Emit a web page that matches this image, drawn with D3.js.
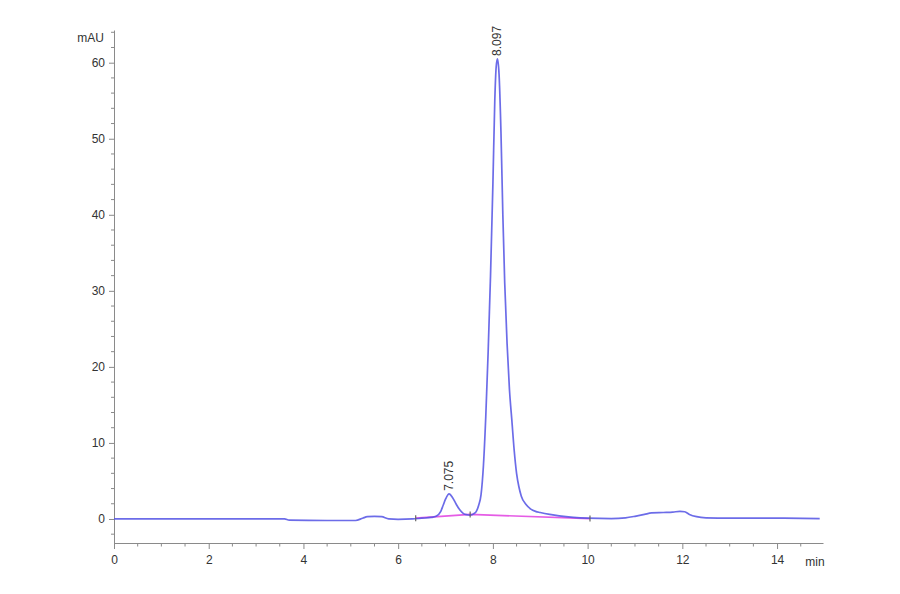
<!DOCTYPE html>
<html><head><meta charset="utf-8">
<script src="https://cdn.jsdelivr.net/npm/d3@7"></script>
<style>
html,body{margin:0;padding:0;background:#fff;}
svg{display:block;font-family:"Liberation Sans",Arial,sans-serif;}
</style></head>
<body><svg id="c" width="900" height="594"></svg>
<script>
// Chromatogram signal (min, mAU)
const traceTime = [0,1,2,3,3.6,3.7,4.5,5.1,5.25,5.35,5.5,5.65,5.8,6.0,6.3,6.5,6.7,6.8,6.9,6.95,7.0,7.075,7.15,7.22,7.3,7.38,7.45,7.52,7.6,7.65,7.7,7.75,7.8,7.85,7.9,7.95,8.0,8.04,8.07,8.097,8.13,8.17,8.21,8.25,8.3,8.35,8.4,8.45,8.5,8.55,8.6,8.7,8.8,8.9,9.0,9.2,9.4,9.7,10.0,10.5,10.8,11.0,11.2,11.35,11.6,11.8,11.95,12.05,12.15,12.3,12.5,13,14,14.9];
const traceSignal = [0,0,0,0,0,-0.15,-0.2,-0.2,0.1,0.3,0.35,0.3,0.0,-0.05,0.0,0.1,0.2,0.35,1.0,1.8,2.6,3.3,2.8,2.0,1.2,0.7,0.55,0.5,0.7,1.0,1.8,3.2,7.0,13.5,22,32,44,55,59.5,60.5,58.5,51,40,31,23,17,13,9,6,4.2,3.0,1.9,1.3,1.0,0.85,0.6,0.4,0.2,0.1,0.05,0.15,0.35,0.6,0.8,0.85,0.9,1.0,0.95,0.6,0.3,0.15,0.1,0.1,0.05];
// Integration baselines
const baseTime = [6.37,7.52,10.05];
const baseSignal = [0.1,0.6,0.05];
// Peak labels
const peakTimes = [7.075,8.097];
const peakHeights = [3.3,60.5];
const peakLabels = ["7.075","8.097"];
// Axis ticks
const xTicks = [0,2,4,6,8,10,12,14];
const yTicks = [0,10,20,30,40,50,60];
const xUnit = "min";
const yUnit = "mAU";

const svg = d3.select("#c");
const x = d3.scaleLinear().domain([0,14.97]).range([114,823]);
const y = d3.scaleLinear().domain([-3.16,64.3]).range([543,30]);
const axisCol = "#8a8a8a", textCol = "#333";

const xMinor = d3.range(0,14.97,0.5).filter(v=>!xTicks.includes(v));
const yMinor = d3.range(-2,64.5,2).filter(v=>!yTicks.includes(v));

const g = svg.append("g");
const xa = g.append("g").attr("transform",`translate(0,${y.range()[0]})`)
  .call(d3.axisBottom(x).tickValues(xTicks).tickFormat(d3.format("d")).tickSizeInner(6).tickSizeOuter(0).tickPadding(6));
xa.append("g").selectAll("line").data(xMinor).join("line")
  .attr("x1",d=>x(d)).attr("x2",d=>x(d)).attr("y1",0).attr("y2",3.5);
const ya = g.append("g").attr("transform",`translate(${x(0)},0)`)
  .call(d3.axisLeft(y).tickValues(yTicks).tickFormat(d3.format("d")).tickSizeInner(5).tickSizeOuter(0).tickPadding(4));
ya.append("g").selectAll("line").data(yMinor).join("line")
  .attr("x1",-3).attr("x2",0).attr("y1",d=>y(d)).attr("y2",d=>y(d));
[xa,ya].forEach(a=>{
  a.selectAll("path.domain").attr("stroke",axisCol);
  a.selectAll("line").attr("stroke",axisCol);
  a.selectAll("text").attr("fill",textCol).attr("font-size",12);
});
g.append("text").attr("x",x.range()[1]-8).attr("y",y.range()[0]+23).attr("text-anchor","middle")
  .attr("fill",textCol).attr("font-size",12).text(xUnit);
g.append("text").attr("x",x(0)-10).attr("y",42).attr("text-anchor","end")
  .attr("fill",textCol).attr("font-size",12).text(yUnit);

const base = baseTime.map((t,i)=>[t,baseSignal[i]]);
const line = d3.line().x(d=>x(d[0])).y(d=>y(d[1]));
g.append("path").datum(base).attr("d",line).attr("fill","none")
  .attr("stroke","#e040e0").attr("stroke-width",1.7).attr("opacity",0.85);

const trace = traceTime.map((t,i)=>[t,traceSignal[i]]);
g.append("path").datum(trace).attr("d",d3.line().curve(d3.curveMonotoneX).x(d=>x(d[0])).y(d=>y(d[1])))
  .attr("fill","none").attr("stroke","#5252e4").attr("stroke-width",1.7).attr("opacity",0.85);

g.selectAll("line.bm").data(base).join("line").attr("class","bm")
  .attr("x1",d=>x(d[0])).attr("x2",d=>x(d[0]))
  .attr("y1",d=>y(d[1])-3).attr("y2",d=>y(d[1])+3)
  .attr("stroke","#666").attr("stroke-width",1.2);

g.selectAll("text.pl").data(peakTimes).join("text").attr("class","pl")
  .attr("transform",(d,i)=>`translate(${x(d)+4},${y(peakHeights[i])-3}) rotate(-90)`)
  .attr("fill","#333").attr("font-size",12).text((d,i)=>peakLabels[i]);
</script></body></html>
